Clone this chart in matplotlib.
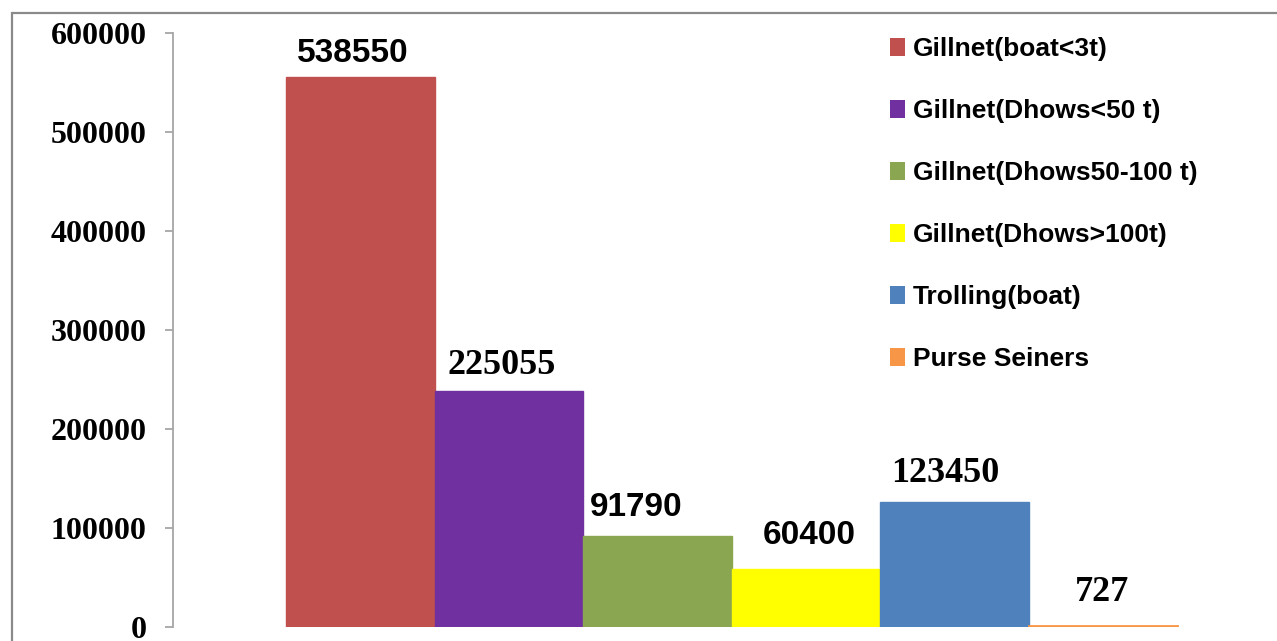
import matplotlib
matplotlib.use("Agg")
import matplotlib.pyplot as plt
from matplotlib import font_manager
from matplotlib.patches import Rectangle

categories = ["Gillnet(boat<3t)", "Gillnet(Dhows<50 t)", "Gillnet(Dhows50-100 t)",
              "Gillnet(Dhows>100t)", "Trolling(boat)", "Purse Seiners"]
bar_heights = [556100, 238500, 91960, 58300, 126000, 727]
label_texts = ["538550", "225055", "91790", "60400", "123450", "727"]
yticks = [0, 100000, 200000, 300000, 400000, 500000, 600000]

colors = ["#C0504D", "#7030A0", "#8BA650", "#FFFF00", "#4F81BD", "#F79646"]
label_serif = [False, True, False, False, True, True]
label_dx_px = [-8, -7, -21, 3, -9, -1]
label_dy_px = [15, 17, 20, 25, 20, 25]

avail = {f.name for f in font_manager.fontManager.ttflist}
narrow = "Liberation Sans Narrow" if "Liberation Sans Narrow" in avail else "Liberation Sans"
serif = "Liberation Serif"

W, H = 1277, 641
dpi = 100
fig = plt.figure(figsize=(W / dpi, H / dpi), dpi=dpi)
fig.patch.set_facecolor("white")

ax_left, ax_right = 172.7, 1277
ax_top, ax_bottom = 33.3, 627
ax = fig.add_axes([ax_left / W, (H - ax_bottom) / H, (ax_right - ax_left) / W, (ax_bottom - ax_top) / H])

x = list(range(len(categories)))
bars = ax.bar(x, bar_heights, width=1.0, color=colors, edgecolor=colors, linewidth=1.0,
              label=None, zorder=2)
bars[-1].set_linewidth(2.0)

ax.set_xlim(-1.263, 6.173)
ax.set_ylim(0, 600000)
ax.set_yticks(yticks)
ax.set_yticklabels([str(v) for v in yticks], fontfamily=serif, fontweight="bold", fontsize=23)
ax.set_xticks([])
for s in ["top", "right", "bottom"]:
    ax.spines[s].set_visible(False)
ax.spines["left"].set_color("#a6a6a6")
ax.spines["left"].set_linewidth(1.3)
ax.tick_params(axis="y", direction="out", length=5.8, width=1.3, color="#a6a6a6", pad=13)

for i, (h, t) in enumerate(zip(bar_heights, label_texts)):
    fam = serif if label_serif[i] else narrow
    size = 26 if label_serif[i] else 24
    ax.annotate(t, xy=(i, h), xytext=(label_dx_px[i] * 0.72, label_dy_px[i] * 0.72),
                textcoords="offset points",
                ha="center", va="baseline", fontfamily=fam, fontweight="bold", fontsize=size,
                color="black", annotation_clip=False)

handles = [Rectangle((0, 0), 1, 1, facecolor=c, edgecolor="none") for c in colors]
fs = 19
fpx = fs * dpi / 72
leg = fig.legend(handles, categories, loc="upper left",
                 bbox_to_anchor=(890 / W, 1 - 37 / H), bbox_transform=fig.transFigure,
                 frameon=False, borderpad=0, borderaxespad=0,
                 handlelength=15 / fpx, handleheight=18 / fpx, handletextpad=8 / fpx,
                 labelspacing=1.44,
                 prop={"family": narrow, "weight": "bold", "size": fs})

border = Rectangle((11.5 / W, -0.05), 1.1, 1 - 13 / H + 0.05, transform=fig.transFigure,
                   fill=False, edgecolor="#8a8a8a", linewidth=1.6, clip_on=False)
fig.patches.append(border)

fig.savefig("out.png", dpi=dpi, facecolor="white")
